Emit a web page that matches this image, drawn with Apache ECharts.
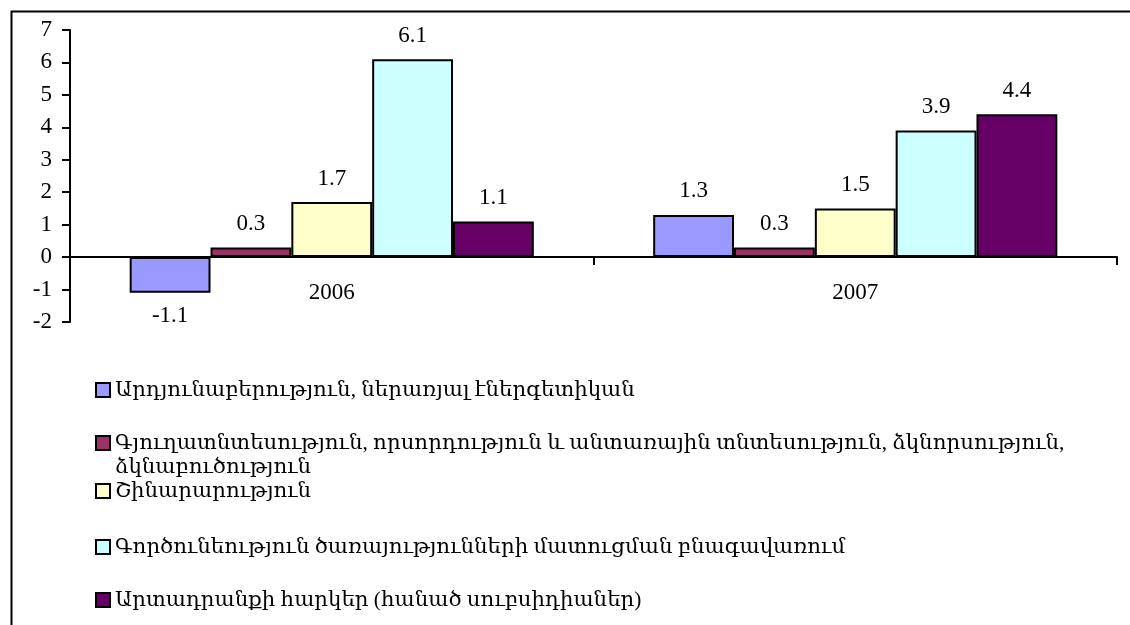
<!DOCTYPE html>
<html>
<head>
<meta charset="utf-8">
<script src="https://cdn.jsdelivr.net/npm/echarts@6/dist/echarts.min.js"></script>
<style>
  html, body { margin: 0; padding: 0; background: #fff; }
  #chart { width: 1130px; height: 625px; }
</style>
</head>
<body>
<div id="chart"></div>
<script>
// data
var years = ['2006', '2007'];
var seriesNames = [
  'Արդյունաբերություն, ներառյալ էներգետիկան',
  'Գյուղատնտեսություն, որսորդություն և անտառային տնտեսություն, ձկնորսություն, ձկնաբուծություն',
  'Շինարարություն',
  'Գործունեություն ծառայությունների մատուցման բնագավառում',
  'Արտադրանքի հարկեր (հանած սուբսիդիաներ)'
];
var industry = [-1.1, 1.3];
var agriculture = [0.3, 0.3];
var construction = [1.7, 1.5];
var services = [6.1, 3.9];
var taxes = [1.1, 4.4];
var yTicks = [-2, -1, 0, 1, 2, 3, 4, 5, 6, 7];

var colors = ['#9999ff', '#993366', '#ffffcc', '#ccffff', '#660066'];
var serif = '"Liberation Serif", "DejaVu Serif", "Times New Roman", serif';

var chartDom = document.getElementById('chart');
var myChart = echarts.init(chartDom);

var allValues = [industry, agriculture, construction, services, taxes];

var series = [];
for (var i = 0; i < seriesNames.length; i++) {
  series.push({
    name: seriesNames[i],
    type: 'bar',
    data: allValues[i],
    barGap: 0,
    barCategoryGap: '22.8%',
    itemStyle: { color: colors[i], borderColor: '#000', borderWidth: 2 },
    label: {
      show: true,
      position: 'outside',
      distance: 12,
      color: '#000',
      fontFamily: serif,
      fontSize: 23
    },
    emphasis: { disabled: true }
  });
}

// one legend per item, Excel spacing is uneven
var legendTops = [378, 407, 479, 535, 588];
var legends = [];
for (var j = 0; j < seriesNames.length; j++) {
  var lg = {
    orient: 'vertical',
    left: 95,
    top: legendTops[j],
    padding: 0,
    itemWidth: 14,
    itemHeight: 14,
    icon: 'rect',
    selectedMode: false,
    data: [seriesNames[j]],
    itemStyle: { borderColor: '#000', borderWidth: 2 },
    textStyle: { color: '#000', fontFamily: serif, fontSize: 21.3, lineHeight: 24 }
  };
  if (j === 1) {
    // empty first line keeps the first text line level with the icon
    lg.formatter = function (name) {
      return '\n' + name.replace(', ձկնաբուծ', ',\nձկնաբուծ');
    };
  }
  legends.push(lg);
}

var option = {
  animation: false,
  backgroundColor: '#fff',
  graphic: [{
    type: 'rect',
    left: 9,
    top: 9,
    shape: { width: 1200, height: 700 },
    style: { fill: 'none', stroke: '#000', lineWidth: 2 },
    silent: true
  }],
  grid: { left: 70, right: 13, top: 30, bottom: 303 },
  legend: legends,
  xAxis: {
    type: 'category',
    data: years,
    axisLine: { onZero: true, lineStyle: { color: '#000', width: 2 } },
    axisTick: { show: true, length: 8, lineStyle: { color: '#000', width: 2 } },
    axisLabel: { color: '#000', fontFamily: serif, fontSize: 23, margin: -41 },
    splitLine: { show: false }
  },
  yAxis: {
    type: 'value',
    min: yTicks[0],
    max: yTicks[yTicks.length - 1],
    interval: 1,
    axisLine: { show: true, lineStyle: { color: '#000', width: 2 } },
    axisTick: { show: true, length: 8, lineStyle: { color: '#000', width: 2 } },
    axisLabel: { color: '#000', fontFamily: serif, fontSize: 23, margin: 18 },
    splitLine: { show: false }
  },
  series: series
};

myChart.setOption(option);
</script>
</body>
</html>
